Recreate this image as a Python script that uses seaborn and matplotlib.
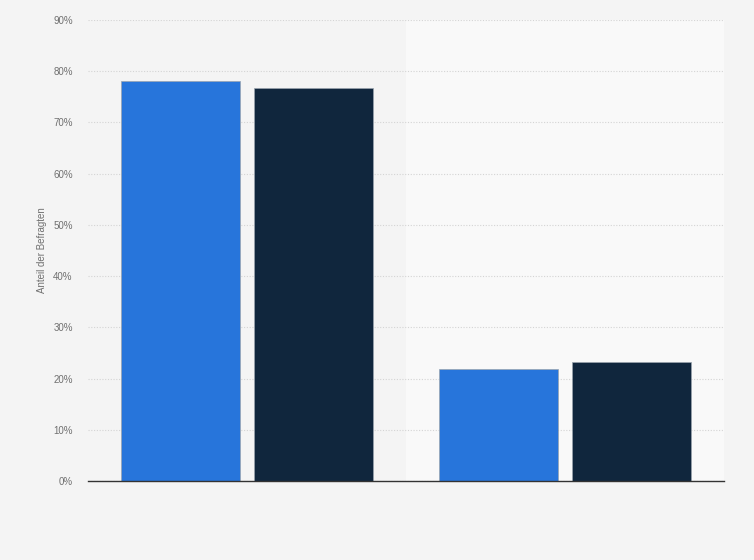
import matplotlib
matplotlib.use("Agg")
import matplotlib.pyplot as plt
import matplotlib.ticker as mticker
import pandas as pd
import seaborn as sns

# ── data ──────────────────────────────────────────────────────────────────────
categories = ["Ja", "Nein"]
series = ["Gruppe A", "Gruppe B"]
values_a = [78.0, 21.8]
values_b = [76.8, 23.2]
y_ticks = [0, 10, 20, 30, 40, 50, 60, 70, 80, 90]

df = pd.DataFrame({
    "Kategorie": categories * 2,
    "Serie": [series[0]] * len(categories) + [series[1]] * len(categories),
    "Anteil": values_a + values_b,
})

# ── plot ──────────────────────────────────────────────────────────────────────
sns.set_style("white")
plt.rcParams["font.family"] = ["Liberation Sans", "DejaVu Sans"]

fig = plt.figure(figsize=(7.54, 5.6), dpi=100, facecolor="#f4f4f4")
ax = fig.add_axes([88 / 754, 79 / 560, 636 / 754, 461 / 560])
ax.set_facecolor("#f4f4f4")

# lighter band behind the second group
ax.axvspan(0.5, 1.5, color="#f9f9f9", zorder=0)

sns.barplot(data=df, x="Kategorie", y="Anteil", hue="Serie",
            palette=["#2775db", "#10263d"], width=0.836, gap=0.105,
            saturation=1, linewidth=0.5, edgecolor="#9aa4ae",
            legend=False, ax=ax, zorder=3)

ax.set_xlim(-0.5, 1.5)
ax.set_ylim(0, 90)
ax.set_yticks(y_ticks)
ax.yaxis.set_major_formatter(mticker.FuncFormatter(lambda v, _: f"{v:.0f}%"))
ax.grid(axis="y", color="#d4d4d4", linestyle=(0, (1, 1.5)), linewidth=0.8, zorder=1)
ax.set_axisbelow(True)

ax.set_xticks([])
ax.set_xlabel("")
ax.set_ylabel("Anteil der Befragten", fontsize=7, color="#707070", labelpad=4.5)
ax.tick_params(axis="y", length=0, labelsize=7, labelcolor="#707070", pad=11)

for side in ["top", "right", "left"]:
    ax.spines[side].set_visible(False)
ax.spines["bottom"].set_color("#333333")
ax.spines["bottom"].set_linewidth(1)
ax.spines["bottom"].set_zorder(5)

fig.savefig("out.png", dpi=100, facecolor=fig.get_facecolor())
